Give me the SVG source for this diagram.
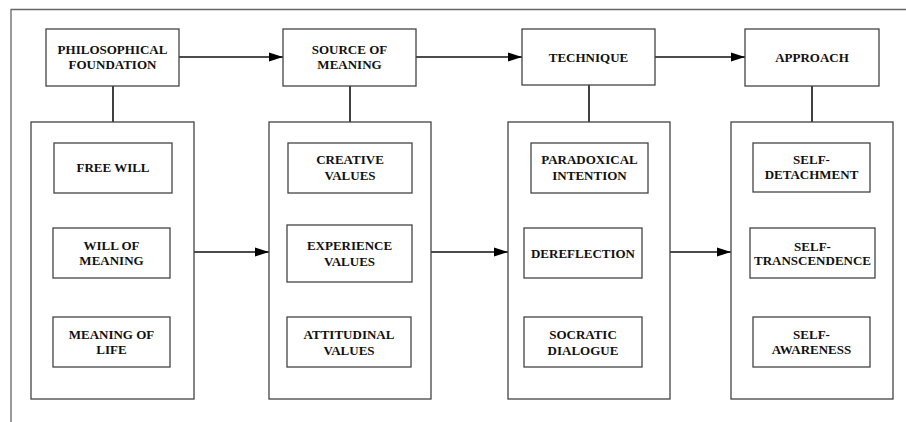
<svg xmlns="http://www.w3.org/2000/svg" width="906" height="422" viewBox="0 0 906 422">
<defs>
<marker id="arr" markerUnits="userSpaceOnUse" markerWidth="14" markerHeight="10" refX="14" refY="5" orient="auto">
<path d="M0,0.5 L14,5 L0,9.5 Z" fill="#000"/>
</marker>
</defs>
<style>
.box{fill:#fff;stroke:#444;stroke-width:1.3}
.frame{fill:none;stroke:#666;stroke-width:1.3}
.t{font-family:"Liberation Serif","Times New Roman",serif;font-weight:bold;font-size:13px;fill:#111;text-anchor:middle}
.c{stroke:#111;stroke-width:1.6;fill:none}
</style>
<rect width="906" height="422" fill="#fff"/>
<g id="frame"><path class="frame" d="M11,422 L11,9.5 L906,9.5"/></g>
<g id="connectors">
<line class="c" x1="179" y1="57" x2="283" y2="57" marker-end="url(#arr)"/>
<line class="c" x1="416" y1="57" x2="522" y2="57" marker-end="url(#arr)"/>
<line class="c" x1="655" y1="57" x2="745" y2="57" marker-end="url(#arr)"/>
<line class="c" x1="113" y1="86" x2="113" y2="122"/>
<line class="c" x1="350" y1="86" x2="350" y2="122"/>
<line class="c" x1="589" y1="85" x2="589" y2="122"/>
<line class="c" x1="812" y1="86" x2="812" y2="122"/>
<line class="c" x1="194" y1="252" x2="269" y2="252" marker-end="url(#arr)"/>
<line class="c" x1="431" y1="252" x2="508" y2="252" marker-end="url(#arr)"/>
<line class="c" x1="670" y1="252" x2="731" y2="252" marker-end="url(#arr)"/>
</g>
<g id="philosophical-foundation"><rect class="box" x="46" y="29" width="133" height="57"/><text class="t" x="112.5" y="54">PHILOSOPHICAL</text><text class="t" x="112.5" y="69">FOUNDATION</text></g>
<g id="source-of-meaning"><rect class="box" x="283" y="29" width="133" height="57"/><text class="t" x="349.5" y="54">SOURCE OF</text><text class="t" x="349.5" y="69">MEANING</text></g>
<g id="technique"><rect class="box" x="522" y="29" width="133" height="56"/><text class="t" x="588.5" y="62">TECHNIQUE</text></g>
<g id="approach"><rect class="box" x="745" y="29" width="134" height="57"/><text class="t" x="812" y="62">APPROACH</text></g>
<g id="container-1"><rect class="box" x="31" y="122" width="163" height="277"/></g>
<g id="container-2"><rect class="box" x="269" y="122" width="162" height="277"/></g>
<g id="container-3"><rect class="box" x="508" y="122" width="162" height="277"/></g>
<g id="container-4"><rect class="box" x="731" y="122" width="162" height="277"/></g>
<g id="free-will"><rect class="box" x="54" y="143" width="118" height="50"/><text class="t" x="113" y="172">FREE WILL</text></g>
<g id="will-of-meaning"><rect class="box" x="53" y="228" width="117" height="50"/><text class="t" x="111.5" y="250">WILL OF</text><text class="t" x="111.5" y="265">MEANING</text></g>
<g id="meaning-of-life"><rect class="box" x="53" y="317" width="117" height="50"/><text class="t" x="111.5" y="339">MEANING OF</text><text class="t" x="111.5" y="354">LIFE</text></g>
<g id="creative-values"><rect class="box" x="288" y="143" width="124" height="50"/><text class="t" x="350" y="164">CREATIVE</text><text class="t" x="350" y="180">VALUES</text></g>
<g id="experience-values"><rect class="box" x="287" y="225" width="125" height="57"/><text class="t" x="349.5" y="250">EXPERIENCE</text><text class="t" x="349.5" y="266">VALUES</text></g>
<g id="attitudinal-values"><rect class="box" x="287" y="317" width="124" height="50"/><text class="t" x="349" y="339">ATTITUDINAL</text><text class="t" x="349" y="355">VALUES</text></g>
<g id="paradoxical-intention"><rect class="box" x="531" y="143" width="117" height="50"/><text class="t" x="589.5" y="164">PARADOXICAL</text><text class="t" x="589.5" y="180">INTENTION</text></g>
<g id="dereflection"><rect class="box" x="524" y="228" width="118" height="50"/><text class="t" x="583" y="258">DEREFLECTION</text></g>
<g id="socratic-dialogue"><rect class="box" x="524" y="317" width="118" height="50"/><text class="t" x="583" y="339">SOCRATIC</text><text class="t" x="583" y="355">DIALOGUE</text></g>
<g id="self-detachment"><rect class="box" x="753" y="143" width="117" height="49"/><text class="t" x="811.5" y="164">SELF-</text><text class="t" x="811.5" y="179">DETACHMENT</text></g>
<g id="self-transcendence"><rect class="box" x="750" y="228" width="125" height="50"/><text class="t" x="812.5" y="251">SELF-</text><text class="t" x="812.5" y="265">TRANSCENDENCE</text></g>
<g id="self-awareness"><rect class="box" x="753" y="317" width="117" height="50"/><text class="t" x="811.5" y="339">SELF-</text><text class="t" x="811.5" y="354">AWARENESS</text></g>
</svg>
